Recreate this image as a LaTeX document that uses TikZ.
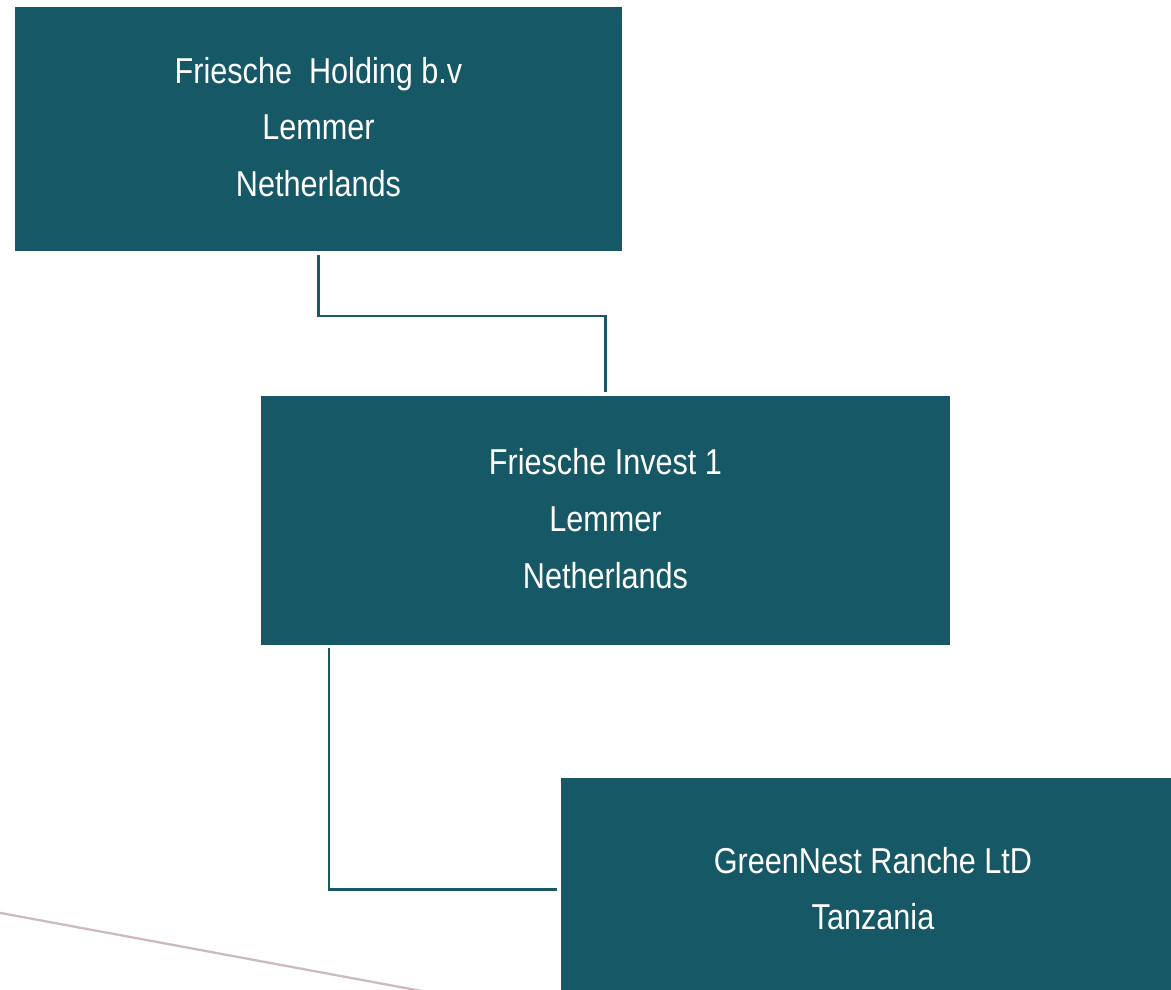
\documentclass[tikz,border=0pt]{standalone}
\usepackage{fontspec}
\setmainfont{Liberation Sans}[FakeStretch=0.85]
\definecolor{petrolio}{HTML}{175866}
\definecolor{rosato}{HTML}{CDB9BE}
\begin{document}
\begin{tikzpicture}[
    x=0.02cm, y=-0.02cm,
    font=\fontsize{20.5}{32.3}\selectfont,
    blocco/.style={rectangle,fill=petrolio,text=white,align=center,
                   inner sep=0pt},
    testo/.style={white,align=center,inner sep=0pt},
    arco/.style={draw=petrolio,line width=1.15pt}]

  \useasboundingbox (0,0) rectangle (1171,990);
  \clip (0,0) rectangle (1171,990);

  \node[blocco,minimum width=12.14cm,minimum height=4.88cm] (holding) at (318.5,129) {};
  \node[blocco,minimum width=13.78cm,minimum height=4.98cm] (invest) at (605.5,520.5) {};
  \node[blocco,minimum width=12.48cm,minimum height=4.46cm] (ranch) at (873,889.5) {};

  \node[testo] (holdingtxt) at ([yshift=0.04cm]holding.center)
    {Friesche\ \ Holding b.v\\Lemmer\\Netherlands};
  \node[testo] (investtxt) at ([yshift=0.04cm]invest.center)
    {Friesche Invest 1\\Lemmer\\Netherlands};
  \node[testo] (ranchtxt) at ([yshift=0.02cm]ranch.center)
    {GreenNest Ranche LtD\\Tanzania};

  \draw[arco,shorten <=2.2pt,shorten >=2pt] (holding.south) -- ++(0,65) -| (invest.north);
  \draw[arco,shorten <=1.7pt,shorten >=2pt] ([xshift=1.36cm]invest.south west) |- (ranch.west);

  \draw[rosato,line width=1.3pt] (-10,911) -- (470,1000);

\end{tikzpicture}
\end{document}
